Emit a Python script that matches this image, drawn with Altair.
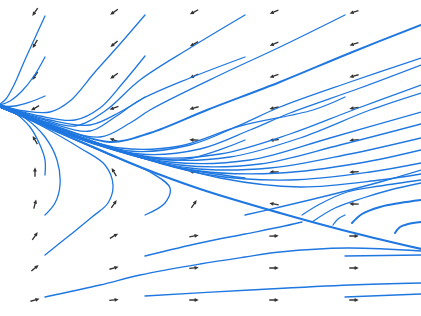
import altair as alt
import pandas as pd

# ---- quiver grid (pixel-like units, y grows downward) ----
arrow_x = [35, 114, 194, 274, 354]
arrow_y = [12, 44, 76, 108, 140, 172, 204, 236, 268, 300]
# heading of each arrow, degrees clockwise from "up", one row per arrow_y
arrow_heading = [
    [215, 235, 242, 248, 252],
    [210, 230, 240, 247, 252],
    [215, 235, 245, 250, 255],
    [240, 250, 255, 258, 262],
    [330, 290, 272, 266, 265],
    [0, 330, 276, 268, 266],
    [15, 35, 35, 280, 272],
    [35, 60, 80, 88, 90],
    [50, 75, 85, 90, 90],
    [75, 85, 90, 90, 90],
]

# ---- streamlines, each a list of (x, y) points ----
upper_fan = [
    [(0, 104), (6, 99), (14, 85), (24, 62), (34, 40), (45, 16)],
    [(0, 105), (10, 101), (22, 91), (34, 76), (45, 57)],
    [(0, 106), (15, 106), (30, 102), (45, 96)],
    [(0, 105), (25, 111), (50, 112), (70, 101), (95, 72), (120, 44), (145, 15)],
    [(0, 105), (40, 116), (75, 120), (100, 108), (122, 84), (145, 56)],
    [(0, 105), (50, 120), (90, 125), (120, 112), (145, 97)],
    [(0, 105), (45, 120), (75, 126), (105, 111), (140, 80), (190, 48), (245, 15)],
    [(0, 105), (50, 123), (90, 131), (115, 117), (140, 100), (190, 78), (245, 57)],
    [(0, 105), (50, 125), (100, 137), (130, 123), (150, 110), (220, 75), (280, 47), (345, 15)],
]
upper_thick = [
    [(0, 105), (60, 128), (110, 142), (150, 133), (207, 110), (280, 82), (350, 53), (421, 25)],
]
bundle = [
    [(0, 106), (60, 130), (120, 148), (180, 146), (240, 126), (313, 110), (345, 97)],
    [(0, 106), (70, 133), (130, 151), (190, 145), (240, 125), (280, 107), (350, 82), (421, 58)],
    [(0, 106), (75, 135), (140, 154), (200, 149), (250, 130), (290, 113), (360, 88), (421, 65)],
    [(0, 107), (80, 138), (150, 157), (220, 154), (290, 134), (353, 110), (421, 85)],
    [(0, 107), (85, 140), (160, 159), (230, 157), (300, 138), (370, 110), (421, 93)],
    [(0, 107), (90, 142), (170, 162), (250, 160), (330, 138), (421, 112)],
    [(0, 107), (95, 144), (180, 165), (260, 164), (340, 145), (421, 124)],
    [(0, 107), (100, 146), (190, 168), (270, 168), (350, 154), (421, 138)],
    [(0, 107), (105, 147), (200, 171), (280, 173), (360, 163), (421, 150)],
    [(0, 107), (110, 148), (210, 175), (290, 180), (370, 172), (421, 163)],
    [(0, 107), (115, 149), (220, 178), (300, 187), (380, 180), (421, 174)],
    [(0, 107), (120, 151), (180, 168), (245, 178)],
    [(0, 107), (110, 148), (180, 160), (245, 140)],
]
lower_curves = [
    [(0, 105), (15, 113), (30, 127), (40, 145), (45, 160), (45, 175)],
    [(0, 105), (25, 118), (45, 137), (57, 160), (60, 185), (55, 203), (45, 215)],
    [(0, 105), (40, 125), (80, 148), (105, 165), (113, 185), (108, 203), (92, 217), (70, 235), (45, 255)],
    [(0, 105), (60, 133), (110, 155), (150, 172), (170, 188), (165, 203), (145, 215)],
]
diagonal = [
    [(0, 105), (40, 124), (100, 150), (140, 167), (200, 189), (280, 213), (350, 232), (421, 249)],
]
bottom_lines = [
    [(45, 297), (100, 285), (140, 275), (200, 264), (245, 257), (280, 252), (347, 248), (421, 251)],
    [(145, 256), (200, 243), (245, 234), (280, 227), (302, 222)],
    [(245, 215), (280, 207), (330, 195), (380, 182), (421, 170)],
    [(145, 296), (250, 290), (350, 285), (421, 283)],
    [(345, 297), (421, 294)],
    [(345, 256), (421, 255)],
]
hooks = [
    [(302, 215), (320, 204), (347, 192), (380, 186), (421, 180)],
    [(312, 222), (335, 208), (363, 198), (390, 190), (421, 183)],
    [(333, 225), (338, 219), (345, 215)],
]
hooks_thick = [
    [(352, 223), (362, 214), (380, 207), (400, 203), (421, 200)],
    [(395, 233), (400, 227), (408, 224), (421, 222)],
]

groups = [
    (upper_fan, 1.3), (upper_thick, 1.9), (bundle, 1.3), (lower_curves, 1.3),
    (diagonal, 2.2), (bottom_lines, 1.3), (hooks, 1.3), (hooks_thick, 2.0),
]
rows = []
lid = 0
for lines, w in groups:
    for line in lines:
        for k, (x, y) in enumerate(line):
            rows.append({"line": lid, "k": k, "x": x, "y": y, "w": w})
        lid += 1
stream_df = pd.DataFrame(rows)

arrows = []
for i, yy in enumerate(arrow_y):
    for j, xx in enumerate(arrow_x):
        arrows.append({"x": xx, "y": yy, "ang": arrow_heading[i][j]})
arrow_df = pd.DataFrame(arrows)

xs = alt.Scale(domain=[0, 421], nice=False, zero=False)
ys = alt.Scale(domain=[0, 316], nice=False, zero=False, reverse=True)

streams = alt.Chart(stream_df).mark_line(
    interpolate="catmull-rom", color="#1f77e0", strokeCap="round"
).encode(
    x=alt.X("x:Q", scale=xs, axis=None),
    y=alt.Y("y:Q", scale=ys, axis=None),
    detail="line:N",
    order="k:Q",
    strokeWidth=alt.StrokeWidth("w:Q", scale=None, legend=None),
)

quiver = alt.Chart(arrow_df).mark_point(
    shape="arrow", filled=True, size=90, color="#333333", opacity=1
).encode(
    x=alt.X("x:Q", scale=xs, axis=None),
    y=alt.Y("y:Q", scale=ys, axis=None),
    angle=alt.Angle("ang:Q", scale=None),
)

chart = alt.layer(quiver, streams).properties(
    width=421, height=316,
    padding={"left": 0, "right": 0, "top": 0, "bottom": 0},
    autosize=alt.AutoSizeParams(type="none"),
    background="white",
).configure_view(stroke=None)

chart.save("out.html", embed_options={"renderer": "svg", "actions": False})
